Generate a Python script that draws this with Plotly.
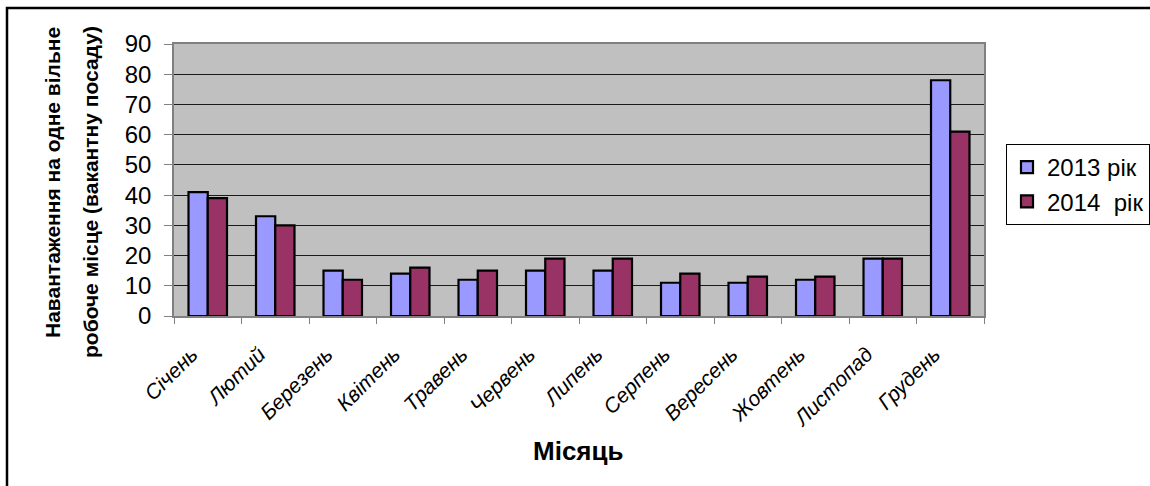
import plotly.graph_objects as go

# Monthly load per vacancy, two years
months = ["Січень", "Лютий", "Березень", "Квітень", "Травень", "Червень",
          "Липень", "Серпень", "Вересень", "Жовтень", "Листопад", "Грудень"]
load_2013 = [41, 33, 15, 14, 12, 15, 15, 11, 11, 12, 19, 78]
load_2014 = [39, 30, 12, 16, 15, 19, 19, 14, 13, 13, 19, 61]
y_ticks = [0, 10, 20, 30, 40, 50, 60, 70, 80, 90]

FONT = "Liberation Sans, Arial, sans-serif"

fig = go.Figure()
fig.add_trace(go.Bar(
    x=months, y=load_2013, name="2013 рік", legendgroup="a",
    marker=dict(color="#9999FF", line=dict(color="#000000", width=2.2)),
))
fig.add_trace(go.Bar(
    x=months, y=load_2014, name="2014  рік", legendgroup="b",
    marker=dict(color="#993366", line=dict(color="#000000", width=2.2)),
))

# plot area in pixels: x 174..984, y 44..316
L, R, T, B = 174, 984, 44, 316
W, H = R - L, B - T

def px_x(x):
    return (x - L) / W

def px_y(y):
    return (B - y) / H

fig.update_layout(
    width=1150, height=486,
    margin=dict(l=L, r=1150 - R, t=T, b=486 - B, autoexpand=False),
    paper_bgcolor="#FFFFFF",
    plot_bgcolor="#C0C0C0",
    barmode="group",
    bargap=0.43,
    bargroupgap=0,
    font=dict(family=FONT, color="#000000"),
    showlegend=True,
    legend=dict(
        x=px_x(1006), y=px_y(144), xanchor="left", yanchor="top",
        bgcolor="#FFFFFF", bordercolor="#000000", borderwidth=1,
        font=dict(family=FONT, size=24, color="#000000"),
        tracegroupgap=2, traceorder="normal",
    ),
    xaxis=dict(
        type="category",
        tickangle=-45,
        tickfont=dict(family=FONT, size=21, style="italic", color="#000000"),
        ticks="outside", tickson="boundaries", ticklen=6, tickcolor="#808080",
        ticklabelstandoff=16, ticklabelshift=-16,
        showline=True, linecolor="#808080", linewidth=1.5, mirror=True,
        showgrid=False,
    ),
    yaxis=dict(
        range=[0, 90],
        tickvals=y_ticks,
        tickfont=dict(family=FONT, size=24, color="#000000"),
        ticks="outside", ticklen=8, tickcolor="#808080",
        ticklabelstandoff=8,
        showline=True, linecolor="#808080", linewidth=1.5, mirror=True,
        showgrid=True, gridcolor="#1a1a1a", gridwidth=1,
        zeroline=False,
    ),
    shapes=[
        # outer chart frame
        dict(type="rect", xref="paper", yref="paper",
             x0=px_x(7), x1=px_x(1300), y0=px_y(600), y1=px_y(8),
             line=dict(color="#000000", width=2.5), fillcolor="rgba(0,0,0,0)",
             layer="above"),
    ],
    annotations=[
        dict(text="<b>Навантаження на одне вільне</b>", textangle=-90,
             xref="paper", yref="paper", x=px_x(52), y=px_y(182),
             xanchor="center", yanchor="middle", showarrow=False,
             font=dict(family=FONT, size=21, color="#000000")),
        dict(text="<b>робоче місце (вакантну посаду)</b>", textangle=-90,
             xref="paper", yref="paper", x=px_x(90), y=px_y(192),
             xanchor="center", yanchor="middle", showarrow=False,
             font=dict(family=FONT, size=21, color="#000000")),
        dict(text="<b>Місяць</b>",
             xref="paper", yref="paper", x=px_x(578), y=px_y(451),
             xanchor="center", yanchor="middle", showarrow=False,
             font=dict(family=FONT, size=26, color="#000000")),
    ],
)

fig.write_html("out.html")
